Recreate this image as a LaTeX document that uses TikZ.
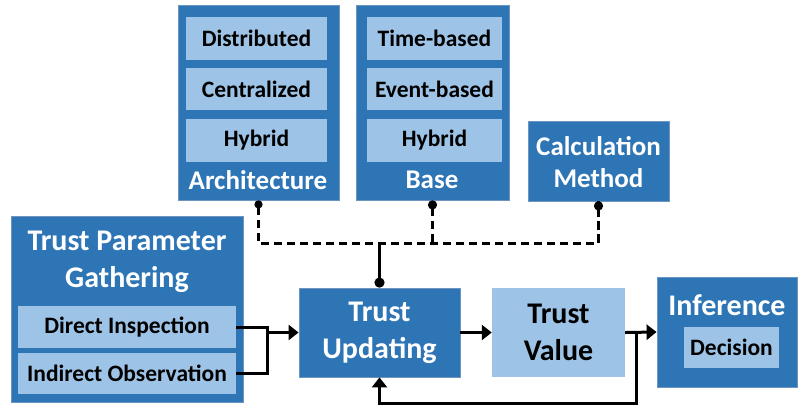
\documentclass[tikz,border=0pt]{standalone}
\usepackage{fontspec}
\setmainfont{Carlito}
\usetikzlibrary{positioning,arrows.meta}

\definecolor{darkblue}{HTML}{2E75B6}
\definecolor{lightblue}{HTML}{9DC3E6}
\definecolor{edgeblue}{HTML}{6E95C0}

\begin{document}
\begin{tikzpicture}[
  x=1pt, y=-1pt,
  node distance=8pt,
  outer/.style={draw=edgeblue, line width=0.8pt, fill=darkblue, inner sep=0pt},
  inner/.style={fill=lightblue, inner sep=0pt, font=\fontsize{23.5}{26}\selectfont\bfseries},
  title/.style={text=white, align=center, inner sep=0pt, font=\fontsize{30}{37}\selectfont\bfseries},
  subtitle/.style={text=white, align=center, inner sep=0pt, font=\fontsize{27}{32}\selectfont\bfseries},
  link/.style={line width=3pt},
  bus/.style={line width=3pt, dash pattern=on 8pt off 5pt},
  >={Triangle[length=10pt,width=15pt]}
]
  \useasboundingbox (0,0) rectangle (798,408);

  % top row: architecture, base, calculation method
  \node[outer, minimum width=161, minimum height=195] (arch) at (258.5,102.5) {};
  \node[inner, minimum width=141, minimum height=43] (dist) at (256.5,38.5) {Distributed};
  \node[inner, minimum width=141, minimum height=42, below=of dist] (cent) {Centralized};
  \node[inner, minimum width=141, minimum height=43, below=of cent] (hyba) {Hybrid};
  \node[subtitle] (archlbl) at (258,180) {Architecture};

  \node[outer, minimum width=153, minimum height=195] (base) at (432.5,102.5) {};
  \node[inner, minimum width=135, minimum height=43] (time) at (434.5,38.5) {Time-based};
  \node[inner, minimum width=135, minimum height=42, below=of time] (event) {Event-based};
  \node[inner, minimum width=135, minimum height=43, below=of event] (hybb) {Hybrid};
  \node[subtitle] (baselbl) at (432,180) {Base};

  \node[outer, minimum width=141, minimum height=80] (calc) at (598.5,161) {};
  \node[subtitle] (calclbl) at (598.5,162) {Calculation\\Method};

  % bottom row
  \node[outer, minimum width=232, minimum height=186] (gath) at (127,309) {};
  \node[title] (gathlbl) at (127,262) {Trust Parameter\\Gathering};
  \node[inner, minimum width=218, minimum height=42] (direct) at (127,327) {Direct Inspection};
  \node[inner, minimum width=218, minimum height=41] (indirect) at (127,373.5) {Indirect Observation};

  \node[outer, minimum width=161, minimum height=89, title] (upd) at (379.5,332.5) {Trust\\Updating};
  \node[fill=lightblue, minimum width=133, minimum height=89, title, text=black] (val) at (558.5,332.5) {Trust\\Value};

  \node[outer, minimum width=140, minimum height=110] (inf) at (727,332) {};
  \node[title] (inflbl) at (727,305) {Inference};
  \node[inner, minimum width=95, minimum height=41] (dec) at (731.5,347.5) {Decision};

  % connectors
  \coordinate (merge) at (267,332.5);
  \coordinate (join) at (379.5,243);
  \coordinate (loop) at (636,332.5);

  \draw[link] (direct.east) -| (merge) |- (indirect.east);
  \draw[link,->] (merge) -- (upd.west);
  \draw[link,->] (upd.east) -- (val.west);
  \draw[link,->] (val.east) -- (inf.west);
  \draw[link,->] (loop) -- ++(0,70.5) -| (upd.south);

  \draw[bus,{Circle[length=8pt]}-] (arch.south) |- (calc.south |- join) -- (calc.south);
  \draw[bus,-{Circle[length=9pt]}] (calc.south |- join) -- (calc.south);
  \draw[bus,{Circle[length=9pt]}-] (base.south) -- (base.south |- join);
  \draw[link,-{Circle[length=10pt]}] (join) -- (upd.north);

\end{tikzpicture}
\end{document}
